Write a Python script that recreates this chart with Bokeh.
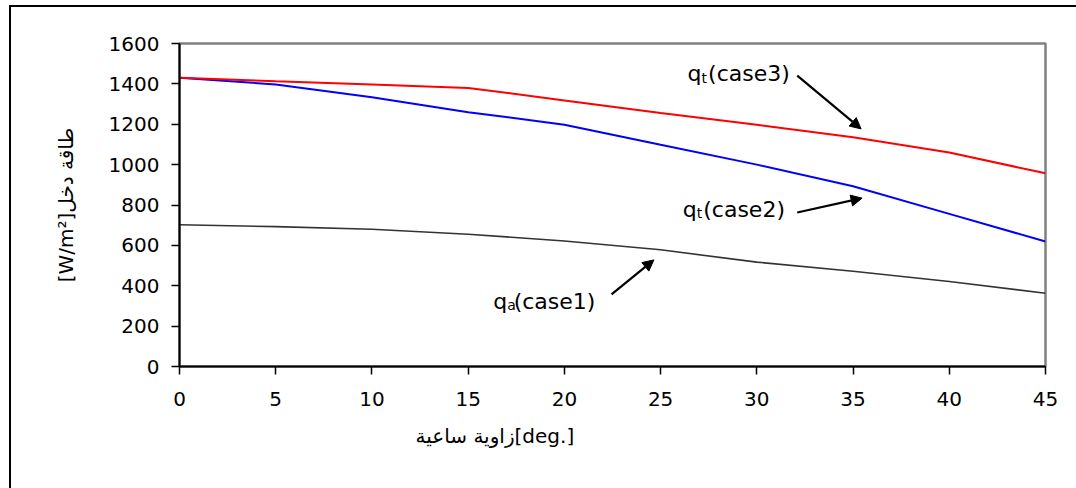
from bokeh.plotting import figure
from bokeh.models import (ColumnDataSource, FixedTicker, Arrow, NormalHead,
                          Range1d, Title, InlineStyleSheet)
from bokeh.core.properties import value
from bokeh.embed import file_html
from bokeh.resources import INLINE

# ---- data ----
angle = [0, 5, 10, 15, 20, 25, 30, 35, 40, 45]
qt_case3 = [1430, 1413, 1397, 1380, 1318, 1256, 1197, 1136, 1060, 957]
qt_case2 = [1430, 1397, 1334, 1260, 1198, 1098, 1000, 893, 756, 619]
qa_case1 = [702, 693, 680, 655, 622, 578, 517, 472, 421, 363]

x_ticks = [0, 5, 10, 15, 20, 25, 30, 35, 40, 45]
y_ticks = [0, 200, 400, 600, 800, 1000, 1200, 1400, 1600]

x_label = "زاوية ساعية[deg.]"
y_label = "[W/m²]طاقة دخل"

# annotations: main letter, subscript, rest, text x, baseline y, arrow start/end
ann_main = ["q", "q", "q"]
ann_sub = ["t", "t", "a"]
ann_rest = ["(case3)", "(case2)", "(case1)"]
ann_x = [26.4, 26.15, 16.3]
ann_y = [1450, 780, 322]
arr_x0 = [32.1, 32.1, 22.45]
arr_y0 = [1441, 763, 357]
arr_x1 = [35.42, 35.47, 24.65]
arr_y1 = [1177, 834, 528]

FONT = "DejaVu Sans"

p = figure(width=1076, height=488, output_backend="svg", toolbar_location=None,
           x_range=Range1d(0, 45), y_range=Range1d(0, 1600),
           min_border_left=179, min_border_right=31, min_border_top=43,
           min_border_bottom=122)

p.xgrid.visible = False
p.ygrid.visible = False
p.outline_line_color = "#808080"
p.outline_line_width = 2.5
p.background_fill_color = "white"
p.border_fill_color = "white"

for ax in (p.xaxis[0], p.yaxis[0]):
    ax.axis_line_color = "black"
    ax.axis_line_width = 2
    ax.major_tick_line_color = "black"
    ax.major_tick_line_width = 1.5
    ax.major_tick_out = 8
    ax.major_tick_in = 0
    ax.minor_tick_line_color = None
    ax.major_label_text_font = FONT
    ax.major_label_text_font_size = "20px"
    ax.major_label_text_color = "black"
    ax.axis_label_text_font = FONT
    ax.axis_label_text_font_size = "20px"
    ax.axis_label_text_font_style = "normal"
    ax.axis_label_text_color = "black"

p.xaxis[0].ticker = FixedTicker(ticks=x_ticks)
p.yaxis[0].ticker = FixedTicker(ticks=y_ticks)
p.yaxis[0].axis_label = y_label
p.xaxis[0].major_label_standoff = 17
p.yaxis[0].major_label_standoff = 12
p.yaxis[0].axis_label_standoff = 28

# x axis title placed off-centre like the reference
p.add_layout(Title(text=x_label, align="left", offset=236, standoff=26,
                   text_font=FONT, text_font_size="20px",
                   text_font_style="normal", text_color="black"), "below")

src = ColumnDataSource(dict(x=angle, c3=qt_case3, c2=qt_case2, c1=qa_case1))
p.line("x", "c1", source=src, line_color="#333333", line_width=1.6)
p.line("x", "c2", source=src, line_color="#0000FF", line_width=2)
p.line("x", "c3", source=src, line_color="#FF0000", line_width=2)

# annotation texts
asrc = ColumnDataSource(dict(x=ann_x, y=ann_y, m=ann_main, s=ann_sub, r=ann_rest))
common = dict(text_font=value(FONT), text_color="black", text_align="left",
              text_baseline="alphabetic")
p.text("x", "y", text="m", source=asrc, text_font_size="22px", **common)
p.text("x", "y", text="s", source=asrc, text_font_size="14px", x_offset=14,
       y_offset=4, **common)
p.text("x", "y", text="r", source=asrc, text_font_size="22px", x_offset=20.5,
       **common)

for i in range(len(arr_x0)):
    p.add_layout(Arrow(end=NormalHead(size=11, fill_color="black", line_color="black"),
                       x_start=arr_x0[i], y_start=arr_y0[i],
                       x_end=arr_x1[i], y_end=arr_y1[i],
                       line_color="black", line_width=2.2))

# outer chart border (top and left edges; right/bottom lie outside the window)
p.stylesheets = [InlineStyleSheet(css="""
:host::after {
  content: '';
  position: absolute;
  left: 9px; top: 5px;
  width: 1067px; height: 483px;
  border-left: 2.5px solid black;
  border-top: 2.5px solid black;
  box-sizing: border-box;
  pointer-events: none;
  z-index: 100;
}
""")]

open("out.html", "w").write(file_html(p, INLINE))
